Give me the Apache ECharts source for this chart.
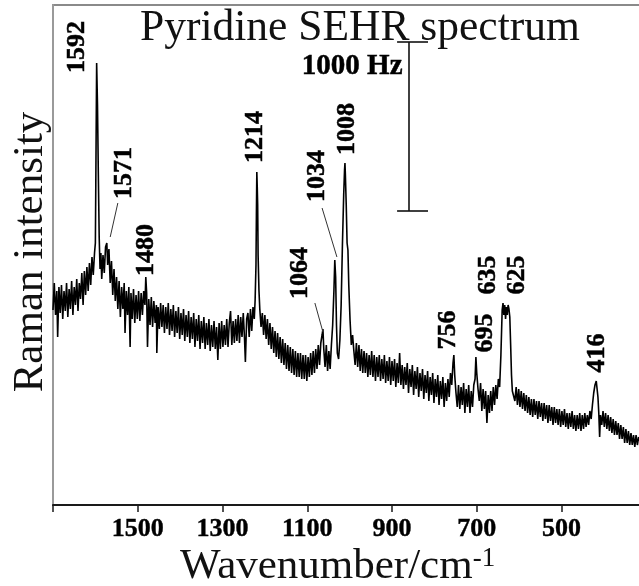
<!DOCTYPE html>
<html>
<head>
<meta charset="utf-8">
<script src="https://cdn.jsdelivr.net/npm/echarts@6/dist/echarts.min.js"></script>
<style>html,body{margin:0;padding:0;background:#fff}#c{width:639px;height:586px}</style>
</head>
<body>
<div id="c"></div>
<script>
// Tick labels shown on the x axis (wavenumber, cm-1)
var xTickLabels = [1500, 1300, 1100, 900, 700, 500];

// Traced spectrum: [wavenumber, Raman intensity (arb. units)]
var spectrum = [
[1700,195],[1697,222],[1694,190],[1691,214],[1689,168],[1686,218],[1683,192],[1680,220],[1677,186],[1674,214],[1671,194],[1668,222],[1665,188],[1662,216],[1659,196],[1656,224],[1653,190],[1650,218],[1647,200],[1644,226],[1641,194],[1638,222],[1635,206],[1632,232],[1629,200],[1626,234],[1623,210],[1620,238],[1617,214],[1614,242],[1611,220],[1608,248],[1605,230],[1602,252],[1600,262],[1599,320],[1597,442],[1595,400],[1593,330],[1591,268],[1589,236],[1587,252],[1585,226],[1582,250],[1579,232],[1576,258],[1573,262],[1571,240],[1568,256],[1565,222],[1562,244],[1559,210],[1556,236],[1553,204],[1550,228],[1547,196],[1544,224],[1541,188],[1538,218],[1535,196],[1532,222],[1530,172],[1527,214],[1524,190],[1521,218],[1518,158],[1516,212],[1513,186],[1510,216],[1507,182],[1504,210],[1501,186],[1498,214],[1495,184],[1492,212],[1489,190],[1486,214],[1483,200],[1481,228],[1479,212],[1477,158],[1474,206],[1471,180],[1468,208],[1465,178],[1462,204],[1459,182],[1456,200],[1455,152],[1452,198],[1449,176],[1446,202],[1443,178],
[1440,200],[1437,172],[1434,198],[1431,176],[1428,202],[1425,170],[1422,196],[1419,174],[1416,200],[1413,168],[1410,194],[1407,172],[1404,198],[1401,166],[1398,192],[1395,170],[1392,196],[1389,164],[1386,190],[1383,168],[1380,194],[1377,162],[1374,188],[1371,166],[1368,192],[1365,158],[1362,186],[1359,164],[1356,190],[1353,156],[1350,184],[1347,162],[1344,188],[1341,156],[1338,182],[1335,160],[1332,186],[1329,154],[1326,180],[1323,158],[1320,184],[1317,156],[1314,178],[1311,145],[1308,182],[1305,156],[1302,184],[1299,158],[1296,180],[1293,160],[1290,186],[1287,158],[1284,182],[1281,194],[1278,160],[1275,184],[1272,162],[1269,186],[1266,164],[1263,190],[1260,162],[1257,188],[1254,168],[1251,192],[1248,166],[1246,143],[1243,186],[1240,192],[1237,168],[1234,196],[1231,174],[1228,198],[1225,186],[1223,205],[1221,240],[1220,290],[1219,333],[1218,318],[1217,300],[1216,250],[1214,215],[1212,196],[1209,178],
[1206,192],[1203,170],[1200,190],[1197,166],[1194,186],[1191,160],[1188,182],[1185,156],[1182,178],[1179,152],[1176,174],[1173,148],[1170,172],[1167,146],[1164,168],[1161,142],[1158,166],[1155,140],[1152,162],[1149,136],[1146,160],[1143,134],[1140,158],[1137,132],[1134,156],[1131,130],[1128,154],[1125,128],[1122,152],[1119,128],[1116,152],[1113,126],[1110,150],[1107,126],[1104,150],[1101,124],[1098,148],[1095,128],[1092,152],[1089,130],[1086,154],[1083,132],[1080,156],[1077,136],[1074,160],[1071,140],[1068,162],[1065,170],[1063,176],[1061,156],[1058,138],[1055,160],[1052,134],[1049,154],[1046,136],[1043,160],[1040,180],[1037,215],[1035,245],[1033,228],[1031,180],[1029,152],[1026,146],[1023,165],[1020,200],[1017,260],[1014,310],[1012,335],[1011,342],[1010,330],[1008,300],[1006,262],[1004,255],[1002,220],[999,185],[996,160],[993,170],
[990,154],[987,140],[984,162],[981,138],[978,160],[975,134],[972,156],[969,132],[966,154],[963,132],[960,152],[957,128],[954,150],[951,130],[948,154],[945,128],[942,150],[939,124],[936,148],[933,128],[930,150],[927,124],[924,146],[921,126],[918,150],[915,122],[912,144],[909,124],[906,148],[903,120],[900,144],[897,124],[894,146],[891,118],[888,142],[885,122],[882,152],[879,120],[876,140],[873,116],[870,138],[867,120],[864,142],[861,112],[858,136],[855,118],[852,140],[849,110],[846,134],[843,116],[840,138],[837,108],[834,132],[831,114],[828,136],[825,106],[822,130],[819,112],[816,134],[813,104],[810,128],[807,110],[804,132],[801,102],[798,126],[795,108],[792,130],[789,100],[786,124],[783,106],[780,128],[777,98],[774,122],[771,104],[768,126],[765,108],[762,132],[759,120],[756,142],[754,150],[752,130],[749,112],[746,98],[743,120],[740,96],[737,118],[734,100],[731,122],[728,92],[725,116],[722,98],[719,120],[716,92],[713,114],[710,98],[707,120],[704,126],[702,148],[700,132],[697,116],[694,104],[691,122],[688,94],[685,116],[682,96],[679,114],[676,82],[673,110],[670,92],[667,114],[664,94],[661,118],[658,100],[655,120],[652,106],[649,126],[646,118],[643,150],[640,195],[638,202],[636,190],[634,200],[632,186],[630,198],[628,190],[626,200],[624,196],[622,188],[620,160],[618,130],[616,114],[613,116],[610,104],[607,118],[604,100],[601,116],[598,98],[595,114],[592,96],[589,112],[586,94],[583,110],[580,92],[577,108],[574,90],[571,106],[568,88],[565,106],[562,90],[559,104],[556,86],[553,104],[550,88],[547,102],[544,84],[541,102],[538,86],[535,100],[532,82],[529,100],[526,84],[523,98],[520,80],[517,98],[514,82],[511,96],[508,80],[505,96],[502,78],[499,94],[496,80],[493,96],[490,78],[487,92],[484,76],[481,92],[478,78],[475,94],[472,76],[469,90],[466,74],[463,90],[460,76],[457,92],[454,74],[451,90],[448,76],[445,92],[442,78],[439,90],[436,80],[433,94],[430,86],[427,100],[424,112],[421,120],[418,124],[416,122],[414,108],[412,92],[410,68],[408,90],[405,80],[402,94],[399,78],[396,92],[393,76],[390,90],[387,74],[384,88],[381,72],[378,86],[375,70],[372,84],[369,70],[366,82],[363,66],[360,80],[357,66],[354,78],[351,62],[348,76],[345,62],[342,74],[339,60],[336,72],[333,60],[330,70],[327,58],[324,70],[321,60],[318,68],[317,64]
];

// Peak annotations (text) and where their labels sit, in data units
var peakLabels = ['1592','1571','1480','1214','1064','1034','1008','756','695','635','625','416'];
var labelWavenumber = [1643,1532,1481,1223,1117,1077,1006,768,680,673,605,416];
var labelIntensity  = [458,332,255,368,232,329,376,175,172,230,230,152];

// Leader lines from labels to peaks, in data units
var leaderLines = [
  [[1547,302],[1565,268]],
  [[1082,202],[1063,173]],
  [[1065,297],[1030,248]]
];

// Scale bar ("1000 Hz"), in data units
var scaleBarText = '1000 Hz';
var scaleBarPos = [994, 438];
var scaleBar = [
  [[888,463],[815,463]],
  [[860,463],[860,294]],
  [[888,294],[815,294]]
];

var FONT = "'Liberation Serif','Times New Roman',serif";
var chart = echarts.init(document.getElementById('c'), null, {renderer:'canvas'});

var labelData = peakLabels.map(function(t,i){
  return {name:t, value:[labelWavenumber[i], labelIntensity[i]]};
});
labelData.push({name:scaleBarText, value:scaleBarPos, label:{rotate:0, fontSize:29}});

var markLines = leaderLines.concat(scaleBar).map(function(seg, i){
  return [{coord:seg[0], lineStyle:{width: i < leaderLines.length ? 1 : 1.6, color: i < leaderLines.length ? '#333' : '#111'}}, {coord:seg[1]}];
});

chart.setOption({
  animation:false,
  backgroundColor:'#ffffff',
  grid:{left:53, top:5, width:678, height:500, show:true, borderColor:'#8a8a8a', borderWidth:2,
        backgroundColor:'transparent', containLabel:false, outerBoundsMode:'none'},
  xAxis:{
    type:'value', inverse:true, min:100, max:1700, interval:200,
    axisLine:{show:true, lineStyle:{color:'#1a1a1a', width:2}},
    axisTick:{show:true, inside:false, length:7, lineStyle:{color:'#1a1a1a', width:1.5}},
    splitLine:{show:false},
    axisLabel:{
      margin:11, color:'#000', fontFamily:FONT, fontWeight:'bold', fontSize:26,
      textBorderColor:'#000', textBorderWidth:0.4,
      formatter:function(v){ return xTickLabels.indexOf(v) >= 0 ? String(v) : ''; }
    }
  },
  yAxis:{
    type:'value', min:0, max:500,
    axisLine:{show:true, lineStyle:{color:'#9a9a9a', width:2}},
    axisTick:{show:false}, axisLabel:{show:false}, splitLine:{show:false}
  },
  graphic:[
    {type:'text', x:140, y:29, style:{text:'Pyridine SEHR spectrum', font:'43.5px '+FONT, fill:'#111', align:'left', verticalAlign:'middle'}},
    {type:'text', x:180, y:545, style:{
      text:'{m|Wavenumber/cm}{s|-1}', fill:'#111', align:'left', verticalAlign:'top',
      rich:{
        m:{fontFamily:FONT, fontSize:43, lineHeight:43, verticalAlign:'bottom', fill:'#111'},
        s:{fontFamily:FONT, fontSize:27, lineHeight:27, verticalAlign:'top', fill:'#111'}
      }}},
    {type:'text', x:31, y:252, rotation:Math.PI/2, style:{text:'Raman intensity', font:'43px '+FONT, fill:'#111', align:'center', verticalAlign:'middle'}}
  ],
  series:[
    {
      type:'line', name:'spectrum', data:spectrum, showSymbol:false, symbol:'none',
      lineStyle:{color:'#000', width:1.6}, clip:true, z:3
    },
    {
      type:'scatter', name:'labels', data:labelData, symbolSize:1,
      itemStyle:{color:'rgba(0,0,0,0)'}, z:5,
      label:{show:true, position:'inside', rotate:90, formatter:'{b}', color:'#000', opacity:1,
        textBorderColor:'#000', textBorderWidth:0.5,
        fontFamily:FONT, fontWeight:'bold', fontSize:26, align:'center', verticalAlign:'middle'},
      labelLayout:{hideOverlap:false},
      markLine:{silent:true, symbol:['none','none'], label:{show:false}, data:markLines,
        lineStyle:{type:'solid'}}
    }
  ]
});
</script>
</body>
</html>
